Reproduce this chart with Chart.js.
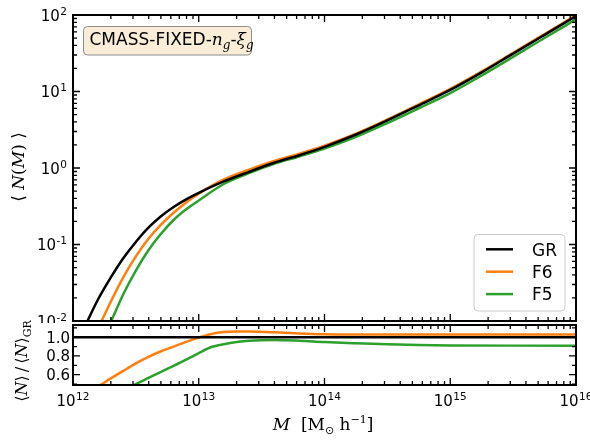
<!DOCTYPE html>
<html>
<head>
<meta charset="utf-8">
<script src="https://cdn.jsdelivr.net/npm/chart.js@4/dist/chart.umd.min.js"></script>
<style>
body { margin: 0; background: #fff; }
#wrap { position: relative; width: 590px; height: 441px; }
canvas { position: absolute; left: 0; }
#topChart { top: 0; }
#ratioChart { top: 300px; }
</style>
</head>
<body>
<div id="wrap">
<canvas id="topChart" width="590" height="323"></canvas>
<canvas id="ratioChart" width="590" height="141"></canvas>
</div>
<script>
// halo mass grid (M_sun/h) and mean occupation
const massTop = [1.26e12, 1.58e12, 2.0e12, 2.51e12, 3.16e12, 3.98e12, 5.01e12, 6.31e12, 7.94e12, 1e13,
                 1.58e13, 2.51e13, 3.98e13, 6.31e13, 1e14, 1.78e14, 3.16e14, 5.62e14, 1e15, 1.78e15, 3.16e15, 5.62e15, 1e16];
const nGR = [0.0089, 0.0191, 0.0372, 0.0661, 0.108, 0.166, 0.234, 0.309, 0.389, 0.473,
             0.668, 0.891, 1.17, 1.47, 1.89, 2.74, 4.19, 6.61, 10.5, 17.8, 31.3, 55.0, 96.6];
const nF6 = [0.0035, 0.0079, 0.0180, 0.0372, 0.070, 0.119, 0.182, 0.260, 0.355, 0.462,
             0.708, 0.951, 1.233, 1.538, 1.963, 2.81, 4.31, 6.79, 10.8, 18.3, 32.1, 56.5, 99.3];
const nF5 = [0.001, 0.0045, 0.0098, 0.0224, 0.0457, 0.0841, 0.138, 0.209, 0.288, 0.376,
             0.618, 0.857, 1.135, 1.416, 1.795, 2.55, 3.87, 6.04, 9.55, 16.2, 28.4, 50.0, 87.9];

// ratio panel
const massRatio = [1e12, 1.26e12, 1.58e12, 2.0e12, 2.51e12, 3.16e12, 3.98e12, 5.01e12, 6.31e12, 7.94e12, 1e13, 1.26e13, 1.58e13,
                   2.0e13, 2.51e13, 3.98e13, 6.31e13, 1e14, 1.78e14, 3.16e14, 5.62e14, 1e15, 3.16e15, 1e16];
const rGR = [1, 1, 1, 1, 1, 1, 1, 1, 1, 1, 1, 1, 1, 1, 1, 1, 1, 1, 1, 1, 1, 1, 1, 1];
const rF6 = [0.32, 0.40, 0.475, 0.56, 0.64, 0.72, 0.79, 0.85, 0.90, 0.95, 0.995, 1.035, 1.055,
             1.062, 1.062, 1.052, 1.04, 1.032, 1.029, 1.028, 1.028, 1.028, 1.028, 1.028];
const rF5 = [0.16, 0.23, 0.30, 0.37, 0.43, 0.50, 0.565, 0.63, 0.694, 0.76, 0.83, 0.895, 0.925,
             0.948, 0.962, 0.97, 0.962, 0.948, 0.935, 0.924, 0.916, 0.912, 0.91, 0.91];

const xMajor = [1e12, 1e13, 1e14, 1e15, 1e16];
const nMajor = [1e-2, 1e-1, 1e0, 1e1, 1e2];
const ratioMajor = [0.6, 0.8, 1.0];
const ratioMinor = [0.5, 0.7, 0.9, 1.1];

const labels = ['GR', 'F6', 'F5'];
const colors = ['#000000', '#ff7f0e', '#2ca02c'];

const pts = (xs, ys) => xs.map((x, i) => ({ x: x, y: ys[i] }));

function logMinors(majors) {
    const out = [];
    for (let i = 0; i < majors.length - 1; i++)
        for (let k = 2; k < 10; k++) out.push(majors[i] * k);
    return out;
}

// frame + inward ticks on all four sides
function drawFrame(ctx, chart, xMaj, xMin, yMaj, yMin) {
    const a = chart.chartArea, xs = chart.scales.x, ys = chart.scales.y;
    ctx.strokeStyle = '#000';
    ctx.lineWidth = 1.3;
    ctx.beginPath();
    const tx = (v, len) => {
        const p = xs.getPixelForValue(v);
        ctx.moveTo(p, a.bottom); ctx.lineTo(p, a.bottom - len);
        ctx.moveTo(p, a.top); ctx.lineTo(p, a.top + len);
    };
    const ty = (v, len) => {
        const p = ys.getPixelForValue(v);
        ctx.moveTo(a.left, p); ctx.lineTo(a.left + len, p);
        ctx.moveTo(a.right, p); ctx.lineTo(a.right - len, p);
    };
    xMaj.forEach(v => tx(v, 7));
    xMin.forEach(v => tx(v, 4));
    yMaj.forEach(v => ty(v, 7));
    yMin.forEach(v => ty(v, 4));
    ctx.stroke();
    ctx.lineWidth = 2;
    ctx.strokeRect(a.left, a.top, a.right - a.left, a.bottom - a.top);
}

// text made of runs with different fonts / offsets
function drawRuns(ctx, runs, x, y, align) {
    let w = 0;
    runs.forEach(r => { ctx.font = r.font; r.w = ctx.measureText(r.t).width; w += r.w + (r.gap || 0); });
    let cx = align === 'right' ? x - w : align === 'center' ? x - w / 2 : x;
    ctx.textAlign = 'left';
    ctx.textBaseline = 'alphabetic';
    runs.forEach(r => {
        ctx.font = r.font;
        ctx.fillText(r.t, cx, y + (r.dy || 0));
        cx += r.w + (r.gap || 0);
    });
}

function powLabel(ctx, v, x, y, align) {
    const e = Math.round(Math.log10(v));
    drawRuns(ctx, [
        { t: '10', font: '15px "DejaVu Sans"', gap: 0.5 },
        { t: String(e), font: '10.5px "DejaVu Sans"', dy: -6 }
    ], x, y, align);
}

const SERIF = '"DejaVu Serif"';

const topDecor = {
    id: 'topDecor',
    afterDraw(chart) {
        const ctx = chart.ctx, a = chart.chartArea, ys = chart.scales.y;
        ctx.save();
        drawFrame(ctx, chart, xMajor, logMinors(xMajor), nMajor, logMinors(nMajor));
        ctx.fillStyle = '#000';
        nMajor.forEach(v => powLabel(ctx, v, a.left - 6, ys.getPixelForValue(v) + 5.5, 'right'));

        // y title
        ctx.save();
        ctx.translate(24, 167);
        ctx.rotate(-Math.PI / 2);
        drawRuns(ctx, [
            { t: '\u27E8 ', font: '17px ' + SERIF },
            { t: 'N', font: 'italic 17px ' + SERIF },
            { t: '(', font: '17px ' + SERIF },
            { t: 'M', font: 'italic 17px ' + SERIF },
            { t: ')', font: '17px ' + SERIF },
            { t: ' \u27E9', font: '17px ' + SERIF }
        ], 0, 0, 'center');
        ctx.restore();

        // annotation box
        ctx.beginPath();
        ctx.roundRect(83.5, 26.5, 168, 28.5, 4);
        ctx.fillStyle = '#faeed9';
        ctx.fill();
        ctx.strokeStyle = '#8c8c8c';
        ctx.lineWidth = 1;
        ctx.stroke();
        ctx.fillStyle = '#000';
        drawRuns(ctx, [
            { t: 'CMASS-FIXED-', font: '17px "DejaVu Sans"' },
            { t: 'n', font: 'italic 17px ' + SERIF },
            { t: 'g', font: 'italic 12px ' + SERIF, dy: 4 },
            { t: '-', font: '17px "DejaVu Sans"' },
            { t: '\u03BE', font: 'italic 17px ' + SERIF },
            { t: 'g', font: 'italic 12px ' + SERIF, dy: 4 }
        ], 89.5, 44.5, 'left');

        // legend
        ctx.beginPath();
        ctx.roundRect(474, 234.5, 91, 76.5, 4);
        ctx.fillStyle = 'rgba(255,255,255,0.8)';
        ctx.fill();
        ctx.strokeStyle = '#cccccc';
        ctx.stroke();
        chart.data.datasets.forEach((ds, i) => {
            const y = 249.3 + i * 22.4;
            ctx.strokeStyle = ds.borderColor;
            ctx.lineWidth = 2.5;
            ctx.beginPath();
            ctx.moveTo(486, y); ctx.lineTo(513, y);
            ctx.stroke();
            ctx.fillStyle = '#000';
            ctx.font = '17px "DejaVu Sans"';
            ctx.textAlign = 'left';
            ctx.textBaseline = 'alphabetic';
            ctx.fillText(ds.label, 532, y + 6.2);
        });
        ctx.restore();
    }
};

const ratioDecor = {
    id: 'ratioDecor',
    afterDraw(chart) {
        const ctx = chart.ctx, a = chart.chartArea, xs = chart.scales.x, ys = chart.scales.y;
        ctx.save();
        drawFrame(ctx, chart, xMajor, logMinors(xMajor), ratioMajor, ratioMinor);
        ctx.fillStyle = '#000';
        xMajor.forEach(v => powLabel(ctx, v, xs.getPixelForValue(v), a.bottom + 21, 'center'));
        ratioMajor.forEach(v => drawRuns(ctx, [{ t: v.toFixed(1), font: '15px "DejaVu Sans"' }],
                                         a.left - 3, ys.getPixelForValue(v) + 5.5, 'right'));

        // x title
        drawRuns(ctx, [
            { t: 'M', font: 'italic 17px ' + SERIF },
            { t: '  [M', font: '17px ' + SERIF },
            { t: '\u2299', font: '11px "DejaVu Sans"', dy: 4 },
            { t: ' h', font: '17px ' + SERIF },
            { t: '\u22121', font: '11px ' + SERIF, dy: -7 },
            { t: ']', font: '17px ' + SERIF }
        ], 323, 130, 'center');

        // y title
        ctx.save();
        ctx.translate(27, 61);
        ctx.rotate(-Math.PI / 2);
        drawRuns(ctx, [
            { t: '\u27E8', font: '16px ' + SERIF },
            { t: 'N', font: 'italic 16px ' + SERIF },
            { t: '\u27E9', font: '16px ' + SERIF, gap: 3 },
            { t: '/', font: '16px ' + SERIF, gap: 3 },
            { t: '\u27E8', font: '16px ' + SERIF },
            { t: 'N', font: 'italic 16px ' + SERIF },
            { t: '\u27E9', font: '16px ' + SERIF },
            { t: 'GR', font: '11px ' + SERIF, dy: 4 }
        ], 0, 0, 'center');
        ctx.restore();
        ctx.restore();
    }
};

const lineDefaults = { point: { radius: 0 }, line: { borderWidth: 2.5, cubicInterpolationMode: 'monotone' } };

new Chart(document.getElementById('topChart'), {
    type: 'line',
    data: {
        datasets: [
            { label: labels[0], data: pts(massTop, nGR), borderColor: colors[0] },
            { label: labels[1], data: pts(massTop, nF6), borderColor: colors[1] },
            { label: labels[2], data: pts(massTop, nF5), borderColor: colors[2] }
        ]
    },
    options: {
        responsive: false,
        animation: false,
        layout: { autoPadding: false, padding: { left: 0, right: 14, top: 15, bottom: 2 } },
        elements: lineDefaults,
        plugins: { legend: { display: false }, tooltip: { enabled: false } },
        scales: {
            x: { type: 'logarithmic', min: 1e12, max: 1e16, display: false },
            y: {
                type: 'logarithmic', min: 0.01, max: 100,
                ticks: { display: false },
                grid: { display: false },
                border: { display: false },
                afterFit: s => { s.width = 73; }
            }
        }
    },
    plugins: [topDecor]
});

new Chart(document.getElementById('ratioChart'), {
    type: 'line',
    data: {
        datasets: [
            { label: labels[0], data: pts(massRatio, rGR), borderColor: colors[0] },
            { label: labels[1], data: pts(massRatio, rF6), borderColor: colors[1] },
            { label: labels[2], data: pts(massRatio, rF5), borderColor: colors[2] }
        ]
    },
    options: {
        responsive: false,
        animation: false,
        layout: { autoPadding: false, padding: { left: 0, right: 14, top: 25, bottom: 0 } },
        elements: lineDefaults,
        plugins: { legend: { display: false }, tooltip: { enabled: false } },
        scales: {
            x: {
                type: 'logarithmic', min: 1e12, max: 1e16,
                ticks: { display: false },
                grid: { display: false },
                border: { display: false },
                afterFit: s => { s.height = 56; }
            },
            y: {
                type: 'linear', min: 0.49, max: 1.13,
                ticks: { display: false },
                grid: { display: false },
                border: { display: false },
                afterFit: s => { s.width = 73; }
            }
        }
    },
    plugins: [ratioDecor]
});
</script>
</body>
</html>
